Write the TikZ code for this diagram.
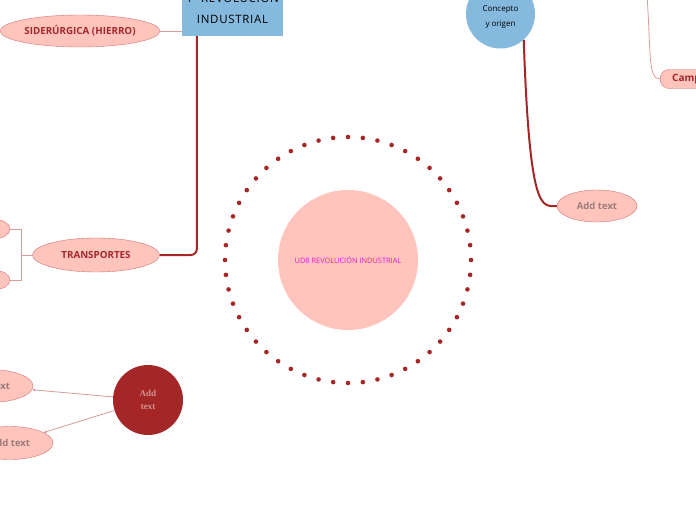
\documentclass[tikz,border=0pt]{standalone}
\usepackage{fontspec}
\setmainfont{Open Sans}
\newfontfamily\serifadd{Liberation Serif}
\usepackage{tikz}
\usetikzlibrary{arrows.meta, shapes.geometric, calc}
\definecolor{rosa}{HTML}{FFC4BC}
\definecolor{borde}{HTML}{D27474}
\definecolor{granate}{HTML}{A52626}
\definecolor{azul}{HTML}{85B9DE}
\definecolor{fucsia}{HTML}{E21BC8}
\definecolor{gris}{HTML}{9B7C7A}
\definecolor{tinta}{HTML}{A3282E}
\definecolor{rosaLinea}{HTML}{D99C9C}
\definecolor{rosaTexto}{HTML}{D39494}

\begin{document}
\begin{tikzpicture}[x=1pt, y=-1pt, font=\fontsize{9pt}{11pt}\selectfont]
    \tikzset{
      el/.style={ellipse, draw=borde, line width=0.4pt, fill=rosa, inner sep=0pt,
                 text=tinta},
      tit/.style={el, font=\fontsize{9.8pt}{11pt}\selectfont\bfseries},
      add/.style={el, text=gris, font=\fontsize{9.5pt}{11pt}\selectfont\bfseries},
      caja/.style={rectangle, fill=azul, align=center, text=black,
                   font=\fontsize{11.5pt}{21pt}\selectfont\addfontfeatures{LetterSpace=6}},
      tronco/.style={draw=granate, line width=2pt},
      rama/.style={draw=rosaLinea, line width=0.8pt},
      punta/.style={-{Latex[length=3pt, width=3pt]}}
    }
    \fill[white] (0,0) rectangle (696,520);
    \path[use as bounding box] (0,0) rectangle (696,520);
    \clip (0,0) rectangle (696,520);

    % centro
    \node[circle, fill=rosa, minimum size=140, text=fucsia,
          font=\fontsize{7.4pt}{8pt}\selectfont] (ud) at (348,260) {UD8 REVOLUCIÓN INDUSTRIAL};
    \foreach \i in {0,...,51}
      \fill[granate] (ud.center) ++(\i/52*360:123) circle (2.3);

    % rama izquierda
    \node[caja, anchor=south, minimum width=101, inner ysep=12] (rev) at (232.5,36) {1ª REVOLUCIÓN\\INDUSTRIAL};
    \node[tit, minimum width=160, minimum height=32] (sid) at (80,31) {SIDERÚRGICA (HIERRO)};
    \node[tit, minimum width=127, minimum height=34] (tra) at (96,255) {TRANSPORTES};
    \node[el, minimum width=30, minimum height=19] (tra1) at (-5,229) {};
    \node[el, minimum width=30, minimum height=19] (tra2) at (-5,280) {};
    \draw[rama] (sid.east) -- (sid.east -| rev.west);
    \draw[tronco, rounded corners=6] ($(rev.south west)+(15,0)$) |- (tra.east);
    \draw[rama] (tra.west) -- ++(-11,0) coordinate (nudo);
    \draw[rama] (nudo) |- (tra1.east);
    \draw[rama] (nudo) |- (tra2.east);

    % rama derecha
    \node[circle, fill=azul, minimum size=69] (con) at (500.5,14) {};
    \node[align=center, font=\fontsize{8pt}{15pt}\selectfont] (conTxt)
          at ([yshift=-3pt]con.center) {Concepto\\y origen};
    \node[add, minimum width=80, minimum height=32] (ad1) at (597,206) {Add text};
    \draw[tronco] (con.-48) .. controls +(6,175) and +(-15,0) .. (ad1.west);
    \node[rectangle, rounded corners=9, draw=borde, fill=rosa, anchor=west,
          minimum height=19, text width=60, inner xsep=12, text=tinta,
          font=\fontsize{10pt}{12pt}\selectfont\bfseries] (camp) at (660,79) {Camp};
    \coordinate (campTop) at (647,-5);
    \draw[rama] (campTop) .. controls +(4,60) and +(-12,0) .. (camp.west);

    % abajo
    \node[circle, fill=granate, minimum size=70, align=center, text=rosaTexto,
          font=\serifadd\bfseries\fontsize{9pt}{13pt}\selectfont] (adc) at (148,400) {Add\\text};
    \node[add, minimum width=86, minimum height=33] (ad2) at (-10,386) {Add text};
    \node[add, minimum width=86, minimum height=33] (ad3) at (10,443) {Add text};
    \draw[rama, punta] (adc) -- (ad2);
    \draw[rama, punta] (adc) -- (ad3);
  \end{tikzpicture}
\end{document}
